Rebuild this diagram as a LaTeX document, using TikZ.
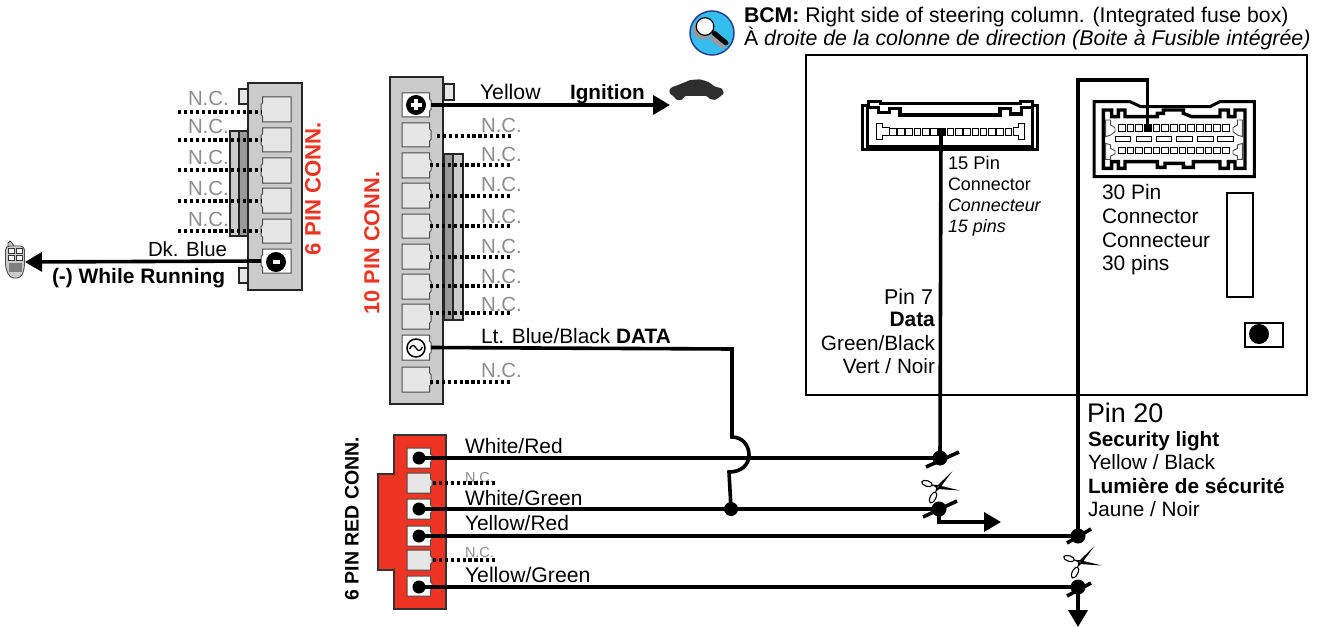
\documentclass[tikz,border=0pt]{standalone}
\usepackage{fontspec}
\setmainfont{Liberation Sans}
\usetikzlibrary{arrows.meta,calc}
\definecolor{bodygray}{HTML}{CBCBCB}
\definecolor{pingray}{HTML}{E6E6E6}
\definecolor{bardark}{HTML}{999999}
\definecolor{ncgray}{HTML}{8C8C8C}
\definecolor{connred}{HTML}{EE3524}
\definecolor{iconblue}{HTML}{35BDF0}
\definecolor{icondark}{HTML}{27408B}
\tikzset{
  lab/.style={anchor=base west,inner sep=0pt,outer sep=0pt,text=black,font=\fontsize{#1}{#1}\selectfont},
  lab/.default=21,
  labr/.style={anchor=base east,inner sep=0pt,outer sep=0pt,text=black,font=\fontsize{#1}{#1}\selectfont},
  labr/.default=21,
  blab/.style={lab=#1,font=\fontsize{#1}{#1}\selectfont\bfseries},
  blab/.default=21,
  nc/.style={anchor=base west,inner sep=0pt,outer sep=0pt,text=ncgray,font=\fontsize{#1}{#1}\selectfont},
  nc/.default=20.5,
  rotlab/.style={rotate=90,inner sep=0pt,outer sep=0pt,font=\fontsize{#1}{#1}\selectfont\bfseries},
  shell/.style={draw=black!85,line width=1.8bp,fill=bodygray},
  wire/.style={draw=black,line width=3.6bp},
  dotwire/.style={draw=black,line width=3.2bp,dash pattern=on 3.2bp off 2.7bp},
  arrowwire/.style={wire,-{Triangle[length=17bp,width=19bp]}},
  junction/.style={circle,fill=black,inner sep=0pt,minimum size=#1},
  junction/.default=14bp,
  pinline/.style={draw=black!70,line width=1bp},
}
% name, flat x, tip x, y1, y2, fill
\newcommand\pinbox[6]{%
  \pgfmathsetmacro\pinstep{(#3>#2)?-1.5:1.5}%
  \pgfmathsetmacro\xneck{#3+\pinstep}%
  \path[pinline,fill=#6] (#2,#4) -- (\xneck,#4) -- (\xneck,#4+6) -- (#3,#4+7.5) -- (#3,#5-7.5) -- (\xneck,#5-6) -- (\xneck,#5) -- (#2,#5) -- cycle;
  \coordinate (#1) at (#3,{(#4+#5)/2});
}
% scissors at x,y
\newcommand\scissorsat[2]{%
  \begin{scope}[shift={(#1bp,-#2bp)}]
    \draw[black,line width=1.1bp,fill=white,rotate around={63:(-5,10.5)}] (-5,10.5) ellipse [x radius=6,y radius=2.8];
    \draw[black,line width=1.1bp,fill=white,rotate around={-18:(-11,-3.5)}] (-11,-3.5) ellipse [x radius=5.5,y radius=2.8];
    \fill[black] (-2.8,5.5) -- (-1.5,-0.5) -- (14.5,-16) -- (1.5,1.5) -- cycle;
    \fill[black] (-6.5,-2.5) -- (0,-1.8) -- (22,3.5) -- (0,2) -- cycle;
    \fill[white] (0,0) circle (.7);
  \end{scope}
}
\begin{document}
\begin{tikzpicture}[x=1bp,y=-1bp]
\useasboundingbox (0,0) rectangle (1321,627);

%% ===== 6 PIN CONN =====
\draw[shell,fill=bardark] (239,131) rectangle (248,236);
\draw[shell] (230,131) rectangle (239,236);
\draw[shell,fill=pingray] (239,89) rectangle (248,104);
\draw[shell,fill=pingray] (239,268) rectangle (248,283);
\node[shell,draw,minimum width=54bp,minimum height=207bp,inner sep=0pt] (sixbody) at (275,186.5) {};
\pinbox{sa}{291}{261}{97}{122}{pingray}
\pinbox{sb}{291}{261}{128}{152}{pingray}
\pinbox{sc}{291}{261}{158}{183}{pingray}
\pinbox{sd}{291}{261}{188}{213}{pingray}
\pinbox{se}{291}{261}{219}{243}{pingray}
\pinbox{sf}{291}{261}{249}{273}{white}
\foreach \n/\yy in {sa/112,sb/140,sc/170,sd/201,se/231}{
  \coordinate (\n free) at (178,\yy);
  \draw[dotwire] (\n free) -- (261,\yy);
}
\node[nc] (nca) at (188,106) {N.C.};
\node[nc] (ncb) at (188,134) {N.C.};
\node[nc] (ncc) at (188,165) {N.C.};
\node[nc] (ncd) at (188,196) {N.C.};
\node[nc] (nce) at (188,226) {N.C.};
\node[rotlab=22.3,text=connred] (sixlab) at (313,188.5) {6 PIN CONN.};
\node[lab=20.5] (dkblue) at (148,256) {Dk. Blue};
\node[blab] (running) at (52,283) {(-) While Running};
\coordinate (remote) at (25,262);
\draw[arrowwire] (sf) -- (remote);
\node[circle,fill=black,inner sep=0pt,minimum size=20bp] (sfdot) at (276,262) {};
\fill[white] (272.5,260) rectangle (279.5,264);
% remote icon
\draw[black!80,line width=.8bp,fill=bodygray] (8,247) -- (8,243) -- (10,241) -- (12,243) -- (14,246);
\draw[black!70,line width=.9bp,fill=black!20,rounded corners=4bp] (5.5,246) -- (24.5,246) -- (24.5,268) -- (21,278) -- (10,278) -- (5.5,268) -- cycle;
\foreach \bx/\by in {8.5/248,16/248,8.5/255,16/255}{
  \draw[black!80,line width=.7bp,fill=white] (\bx,\by) rectangle (\bx+6,\by+5.8);
}
\fill[black!50] (9,263) rectangle (22,272);

%% ===== 10 PIN CONN =====
\draw[shell,fill=bardark] (444,154) rectangle (453,320);
\draw[shell] (453,154) rectangle (463,320);
\draw[shell,fill=pingray] (444,84) rectangle (454,100);
\node[shell,draw,minimum width=53bp,minimum height=327bp,inner sep=0pt] (tenbody) at (416.5,240.5) {};
\pinbox{ta}{402}{431}{93}{117}{white}
\pinbox{tb}{402}{431}{123}{147}{pingray}
\pinbox{tc}{402}{431}{153}{178}{pingray}
\pinbox{td}{402}{431}{183}{208}{pingray}
\pinbox{te}{402}{431}{214}{238}{pingray}
\pinbox{tf}{402}{431}{244}{269}{pingray}
\pinbox{tg}{402}{431}{274}{299}{pingray}
\pinbox{th}{402}{431}{304}{329}{pingray}
\pinbox{ti}{402}{431}{335}{360}{white}
\pinbox{tj}{402}{431}{367}{392}{pingray}
\foreach \n/\yy/\xs in {tb/136/437,tc/165/430,td/196/430,te/226/430,tf/257/430,tg/286/430,th/313/430,tj/382/430}{
  \coordinate (\n free) at (512,\yy);
  \draw[dotwire] (\xs,\yy) -- (\n free);
}
\foreach \nm/\yy in {a/133,b/162,c/192,d/223,e/253,f/283,g/311,h/377}{
  \node[nc] (tnc\nm) at (481,\yy) {N.C.};
}
\node[rotlab=21.8,text=connred] (tenlab) at (372,243) {10 PIN CONN.};
\node[lab=21.3] (yellow) at (480,100) {Yellow};
\node[blab=20.8] (ignition) at (570,100) {Ignition};
\coordinate (carpt) at (670,105);
\draw[arrowwire] (ta) -- (carpt);
\node[circle,fill=black,inner sep=0pt,minimum size=20bp] (tadot) at (416,105) {};
\fill[white] (410.5,103.3) rectangle (421.5,106.7);
\fill[white] (414.3,99.5) rectangle (417.7,110.5);
\node[circle,draw=black,line width=1.5bp,fill=none,inner sep=0pt,minimum size=18bp] (tidot) at (416,348) {};
\draw[black,line width=1.4bp] (409.5,349) .. controls (412,344) and (414,345) .. (416,348) .. controls (418,351) and (420,352) .. (422.5,347);
\node[lab=20.9] (ltblue) at (481,343) {Lt. Blue/Black \textbf{DATA}};
% car
\fill[black!82,rounded corners=1bp] (669.3,90) -- (671.7,87.3) -- (678,85) -- (683,83) -- (690,80) -- (700,79.3) -- (708,81.7) -- (715,86.7) -- (721.7,88.3) -- (724,93.3) -- (720,96.7) -- (715,100) -- (710,99) -- (706.7,96) -- (685,96) -- (681.7,100) -- (676.7,100) -- (673.3,96) -- (670,94) -- cycle;

%% ===== RED CONN =====
\draw[draw=black!80,line width=1.6bp,fill=connred] (394,435) -- (446,435) -- (446,609) -- (394,609) -- (394,570) -- (378,570) -- (378,474) -- (394,474) -- cycle;
\coordinate (redbody) at (420,520);
\pinbox{ra}{407}{432}{448}{468}{white}
\pinbox{rb}{407}{432}{473}{493}{pingray}
\pinbox{rc}{407}{432}{499}{519}{white}
\pinbox{rd}{407}{432}{526}{546}{white}
\pinbox{re}{407}{432}{550}{570}{pingray}
\pinbox{rf}{407}{432}{576}{596}{white}
\node[nc=14.5] (rnca) at (465,482) {N.C.};
\node[nc=14.5] (rncb) at (465,557) {N.C.};
\coordinate (rbfree) at (495,483);
\coordinate (refree) at (495,560);
\draw[dotwire] (433,483) -- (rbfree);
\draw[dotwire] (433,560) -- (refree);
\node[lab] (wr) at (465,453) {White/Red};
\node[lab] (wg) at (465,505) {White/Green};
\node[lab] (yr) at (465,530) {Yellow/Red};
\node[lab=21.3] (yg) at (465,582) {Yellow/Green};
\node[rotlab=19.6,text=black] (redlab) at (352,518.5) {6 PIN RED CONN.};

\coordinate (j1) at (940,458);
\coordinate (j2) at (939,509);
\coordinate (j3) at (1078,536);
\coordinate (j4) at (1078,587);
\coordinate (jd) at (731,509);
\node[junction=13bp] (rad) at (419,458) {};
\node[junction=13bp] (rcd) at (419,509) {};
\node[junction=13bp] (rdd) at (419,536) {};
\node[junction=13bp] (rfd) at (419,587) {};
\draw[wire] (rad.center) -- (j1);
\draw[wire] (rcd.center) -- (j2);
\draw[wire] (rdd.center) -- (j3);
\draw[wire] (rfd.center) -- (j4);

%% data wire with hop
\coordinate (dcorner) at (732,349);
\draw[wire,line join=miter] (ti) -- (dcorner) -- (732,437) .. controls (743,437) and (749,446) .. (749,455) .. controls (749,465) and (741,472) .. (729,472) -- (jd);
\node[junction=14bp] (jdd) at (jd) {};

%% ===== BCM BOX =====
\node[draw=black,line width=1.8bp,minimum width=501bp,minimum height=340bp,inner sep=0pt] (bcm) at (1056.5,225) {};
\node[lab=21.3] (h1) at (744,23) {\textbf{BCM:} Right side of steering column. (Integrated fuse box)};
\node[lab=21.4] (h2) at (744,46) {À \textit{droite de la colonne de direction (Boite à Fusible intégrée)}};
% icon
\node[circle,draw=icondark,line width=1.5bp,fill=iconblue,minimum size=44bp,inner sep=0pt] (icon) at (712,33) {};
\fill[black!40] (702.5,30) circle (9.5);
\draw[black!40,line width=5bp,line cap=round] (712,38) -- (723,46);
\draw[black,line width=5bp,line cap=round] (714,33) -- (726,43);
\draw[black,line width=1.2bp,fill=white] (705,26.5) circle (8.8);

%% 15 pin connector
\begin{scope}[shift={(850bp,-90bp)},x=.3333bp,y=-.3333bp]
  \draw[black,line width=3bp,fill=white] (37,47) -- (55,47) -- (55,34) -- (90,34) -- (90,42) -- (510,42) -- (510,34) -- (548,34) -- (548,47) -- (563,47) -- (563,180) -- (37,180) -- cycle;
  \draw[black,line width=2.6bp] (52,47) -- (52,170) -- (548,170) -- (548,47);
  \draw[black,line width=3.2bp] (52,52) -- (85,52) -- (85,68) -- (118,68) -- (118,55) -- (150,55) -- (150,75) -- (450,75) -- (450,55) -- (482,55) -- (482,72) -- (515,72) -- (515,52) -- (548,52);
  \draw[black,line width=1bp] (78,100) -- (97,100) -- (97,113) -- (118,113) -- (118,136) -- (97,136) -- (97,150) -- (78,150) -- cycle;
  \draw[black,line width=1bp] (522,100) -- (505,100) -- (505,113) -- (490,113) -- (490,136) -- (505,136) -- (505,150) -- (522,150) -- cycle;
  \foreach \i in {0,...,14}{
    \draw[black,line width=1bp,fill=white] ({118+\i*24.8},115) rectangle ({118+\i*24.8+20},136);
  }
  \fill[black] (262,113) rectangle (286,137);
  \coordinate (p15) at (273,125);
\end{scope}
\draw[wire] (p15) -- (j1);
\node[lab=18.4] (t15a) at (948,170) {15 Pin};
\node[lab=18] (t15b) at (948,191) {Connector};
\node[lab=18] (t15c) at (948,211) {\textit{Connecteur}};
\node[lab=18] (t15d) at (948,232) {\textit{15 pins}};
\node[labr=21.5] (pin7) at (933,304) {Pin 7};
\node[labr=21] (data) at (935,326) {\textbf{Data}};
\node[labr=20.8] (gb) at (935,350) {Green/Black};
\node[labr=20.8] (vn) at (935,373) {Vert / Noir};

%% 30 pin connector
\begin{scope}[shift={(1070bp,-80bp)},x=.3333bp,y=-.3333bp]
  \draw[black,line width=3bp,fill=white] (72,65) -- (180,65) -- (212,80) -- (420,80) -- (450,65) -- (553,65) -- (553,290) -- (72,290) -- cycle;
  \draw[black,line width=3.4bp] (100,90) -- (125,90) -- (125,110) -- (145,110) -- (145,90) -- (165,90) -- (165,110) -- (262,110) -- (262,100) -- (280,100) -- (280,90) -- (340,90) -- (340,100) -- (365,110) -- (450,110) -- (450,90) -- (475,90) -- (475,110) -- (495,110) -- (495,90) -- (525,90) -- (525,265) -- (495,265) -- (495,245) -- (475,245) -- (475,265) -- (450,265) -- (450,245) -- (370,245) -- (370,262) -- (340,262) -- (340,250) -- (285,250) -- (285,262) -- (262,262) -- (262,245) -- (165,245) -- (165,265) -- (145,265) -- (145,245) -- (125,245) -- (125,265) -- (100,265) -- cycle;
  \draw[black!70,line width=.9bp] (107,120) -- (122,120) -- (122,135) -- (135,143) -- (135,155) -- (122,165) -- (107,170) -- cycle;
  \draw[black!70,line width=.9bp] (107,190) -- (122,195) -- (122,205) -- (135,212) -- (135,222) -- (122,228) -- (122,238) -- (107,238) -- cycle;
  \draw[black!70,line width=.9bp] (517,120) -- (502,120) -- (502,135) -- (489,143) -- (489,155) -- (502,165) -- (517,170) -- cycle;
  \draw[black!70,line width=.9bp] (517,190) -- (502,195) -- (502,205) -- (489,212) -- (489,222) -- (502,228) -- (502,238) -- (517,238) -- cycle;
  \foreach \i in {0,...,12}{
    \draw[black,line width=1bp,fill=white] ({145+\i*26},135) rectangle ({145+\i*26+20},155);
    \draw[black,line width=1bp,fill=white] ({145+\i*26},203) rectangle ({145+\i*26+20},222);
  }
  \foreach \sx in {135,198,258,320,382,442}{
    \draw[black,line width=1bp,fill=white] (\sx,170) rectangle (\sx+47,186);
  }
  \fill[black] (222,134) rectangle (244,156);
  \coordinate (p30) at (232,145);
\end{scope}
\coordinate (topL) at (1078,80);
\coordinate (topR) at (p30 |- topL);
\draw[wire,line join=miter] (j3) -- (topL) -- (topR) -- (p30);
\node[lab=21] (t30a) at (1102,199) {30 Pin};
\node[lab=21] (t30b) at (1102,223) {Connector};
\node[lab=21] (t30c) at (1102,247) {Connecteur};
\node[lab=21] (t30d) at (1102,270) {30 pins};
\node[draw=black,line width=2bp,fill=white,minimum width=26bp,minimum height=104bp,inner sep=0pt] (fuse) at (1240,245) {};
\node[draw=black,line width=2.4bp,fill=white,minimum width=38bp,minimum height=24bp,inner sep=0pt] (slot) at (1264,335) {};
\node[circle,fill=black,minimum size=20bp,inner sep=0pt] (slotdot) at (1259,334) {};
\node[lab=27] (pin20) at (1087,422) {Pin 20};
\node[lab=20.8] (sec) at (1088,446) {\textbf{Security light}};
\node[lab=20.8] (yb) at (1088,469) {Yellow / Black};
\node[lab=20.9] (lum) at (1088,493) {\textbf{Lumière de sécurité}};
\node[lab=20.8] (jn) at (1088,516) {Jaune / Noir};

%% Cuts and junctions
\node[junction=15bp] (j1d) at (j1) {};
\node[junction=15bp] (j2d) at (j2) {};
\node[junction=15bp] (j3d) at (j3) {};
\node[junction=15bp] (j4d) at (j4) {};
\draw[wire] (926,467) -- (959,452);
\draw[wire] (923,517) -- (957,501);
\draw[wire] (1067,543) -- (1091,529);
\draw[wire] (1067,596) -- (1091,583);
\coordinate (elbow) at (939,522);
\coordinate (cutend) at (1001,522);
\draw[arrowwire,line join=miter] (j2) -- (elbow) -- (cutend);
\coordinate (bottomend) at (1078,627);
\draw[arrowwire] (j4) -- (bottomend);
\scissorsat{938}{487}
\scissorsat{1080}{562}
\end{tikzpicture}
\end{document}
